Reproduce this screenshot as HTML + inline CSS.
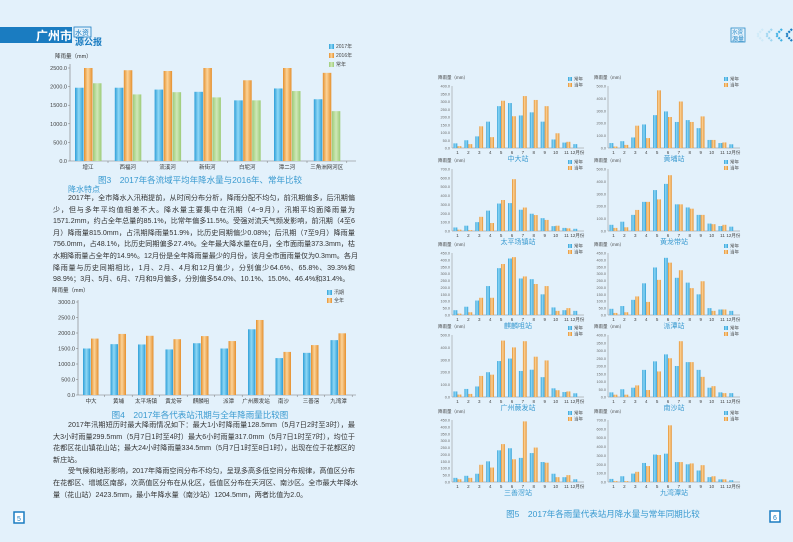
<!DOCTYPE html>
<html><head><meta charset="utf-8">
<style>
html,body{margin:0;padding:0;}
body{width:793px;height:542px;background:#e3f1fb;overflow:hidden;position:relative;font-family:"Liberation Sans","Noto Sans CJK SC",sans-serif;}
svg{position:absolute;left:0;top:0;}
.p{position:absolute;left:53px;width:302px;font-size:7.1px;color:#333;}
.p div{height:11.6px;line-height:11.6px;white-space:nowrap;text-align:justify;text-align-last:justify;overflow:visible;}
.p div.l{text-align-last:left;}
.p div.i{padding-left:15px;}
</style></head><body>
<svg id="s" width="793" height="542" viewBox="0 0 793 542" font-family="Liberation Sans, Noto Sans CJK SC, sans-serif">
<defs>
<linearGradient id="gb" x1="0" x2="1"><stop offset="0" stop-color="#2f9fd8"/><stop offset="0.45" stop-color="#8fd8f5"/><stop offset="1" stop-color="#2f9fd8"/></linearGradient>
<linearGradient id="go" x1="0" x2="1"><stop offset="0" stop-color="#e5902e"/><stop offset="0.45" stop-color="#fbd399"/><stop offset="1" stop-color="#e5902e"/></linearGradient>
<linearGradient id="gg" x1="0" x2="1"><stop offset="0" stop-color="#9ccb78"/><stop offset="0.5" stop-color="#cfe8b8"/><stop offset="1" stop-color="#9ccb78"/></linearGradient>
</defs>
<rect x="0" y="27" width="72" height="16" fill="#1a7cc1"/>
<text x="36" y="40" font-size="12" font-weight="bold" fill="#fff">广州市</text>
<rect x="74" y="27" width="17" height="10" fill="none" stroke="#1a7cc1" stroke-width="0.8"/>
<text x="75" y="35" font-size="7" fill="#1a7cc1">水资</text>
<text x="75" y="45" font-size="9" font-weight="bold" fill="#1a7cc1">源公报</text>
<rect x="731" y="28" width="14" height="14" fill="none" stroke="#2a8cc8" stroke-width="0.8"/>
<text x="732" y="34" font-size="5.5" fill="#2a8cc8">水资</text>
<text x="732" y="41" font-size="6" fill="#2a8cc8">源量</text>
<g fill="none" stroke-width="2.2" stroke-dasharray="2 1">
<polyline points="763,29 757,35 763,41" stroke="#cfeaf8"/>
<polyline points="772,29 766,35 772,41" stroke="#9fd6f1"/>
<polyline points="782,29 776,35 782,41" stroke="#3fb0e4"/>
<polyline points="792,29 786,35 792,41" stroke="#1a7cc1"/>
</g>
<g id="c1"></g><g id="c2"></g><g id="c3"></g>
<text x="200" y="183" font-size="8.5" fill="#3a9ad0" text-anchor="middle">图3　2017年各流域平均年降水量与2016年、常年比较</text>
<text x="68" y="192" font-size="8" fill="#3a9ad0">降水特点</text>
<text x="200" y="418" font-size="8.5" fill="#3a9ad0" text-anchor="middle">图4　2017年各代表站汛期与全年降雨量比较图</text>
<text x="603" y="517" font-size="8.5" fill="#3a9ad0" text-anchor="middle">图5　2017年各雨量代表站月降水量与常年同期比较</text>
<rect x="14" y="512" width="10" height="11" fill="#fff" stroke="#1a7cc1" stroke-width="1.5"/>
<text x="19" y="521" font-size="7" fill="#1a7cc1" text-anchor="middle">5</text>
<rect x="770" y="511" width="10" height="11" fill="#fff" stroke="#1a7cc1" stroke-width="1.5"/>
<text x="775" y="520" font-size="7" fill="#1a7cc1" text-anchor="middle">6</text>
</svg>
<div class="p" style="top:193px;">
<div class="i">2017年，全市降水入汛稍提前，从时间分布分析，降雨分配不均匀，前汛期偏多，后汛期偏</div>
<div>少，但与多年平均值相差不大。降水量主要集中在汛期（4~9月），汛期平均面降雨量为</div>
<div>1571.2mm，约占全年总量的85.1%，比常年偏多11.5%。受强对流天气频发影响，前汛期（4至6</div>
<div>月）降雨量815.0mm，占汛期降雨量51.9%，比历史同期偏少0.08%；后汛期（7至9月）降雨量</div>
<div>756.0mm，占48.1%，比历史同期偏多27.4%。全年最大降水量在6月，全市面雨量373.3mm，枯</div>
<div>水期降雨量占全年的14.9%。12月份是全年降雨量最少的月份，该月全市面雨量仅为0.3mm。各月</div>
<div>降雨量与历史同期相比，1月、2月、4月和12月偏少，分别偏少64.6%、65.8%、39.3%和</div>
<div class="l">98.9%；3月、5月、6月、7月和9月偏多，分别偏多54.0%、10.1%、15.0%、46.4%和31.4%。</div>
</div>
<div class="p" style="top:420px;">
<div class="i">2017年汛期短历时最大降雨情况如下：最大1小时降雨量128.5mm（5月7日2时至3时），最</div>
<div>大3小时雨量299.5mm（5月7日1时至4时）最大6小时雨量317.0mm（5月7日1时至7时），均位于</div>
<div>花都区花山镇花山站；最大24小时降雨量334.5mm（5月7日1时至8日1时），出现在位于花都区的</div>
<div class="l">新庄站。</div>
<div class="i">受气候和地形影响，2017年降雨空间分布不均匀，呈现多高多低空间分布规律，高值区分布</div>
<div>在花都区、增城区南部，次高值区分布在从化区，低值区分布在天河区、南沙区。全市最大年降水</div>
<div class="l">量（花山站）2423.5mm，最小年降水量（南沙站）1204.5mm，两者比值为2.0。</div>
</div>
<script>
var NS="http://www.w3.org/2000/svg";
function el(p,t,a,txt){var e=document.createElementNS(NS,t);for(var k in a)e.setAttribute(k,a[k]);if(txt!==undefined)e.textContent=txt;p.appendChild(e);return e;}
(function(){var g=document.getElementById('c1');
var x0=70,x1=356,yt=68,yb=161,max=2500;
el(g,'text',{x:55,y:58,'font-size':5.5,fill:'#333'},'降雨量（mm）');
for(var i=0;i<=5;i++){var y=yb-(yb-yt)*i/5;el(g,'text',{x:x0-3,y:y+2,'font-size':5.5,fill:'#444','text-anchor':'end'},(i*500).toFixed(1));el(g,'line',{x1:x0-2,x2:x0,y1:y,y2:y,stroke:'#777','stroke-width':0.5});}
el(g,'line',{x1:x0,x2:x0,y1:yt-4,y2:yb,stroke:'#777','stroke-width':0.6});
el(g,'line',{x1:x0,x2:x1,y1:yb,y2:yb,stroke:'#777','stroke-width':0.6});
var n=['增江','西福河','流溪河','新街河','白坭河','潭二河','三角洲网河区'];
var a=[1970,1970,1920,1860,1630,1950,1660],b=[2500,2440,2420,2500,2170,2500,2370],c=[2090,1790,1850,1710,1630,1880,1340];
for(var i=0;i<7;i++){var cx=88+i*39.8;
[[a,'gb',-13],[b,'go',-4],[c,'gg',5]].forEach(function(s){var h=(yb-yt)*s[0][i]/max;el(g,'rect',{x:cx+s[2],y:yb-h,width:8.5,height:h,fill:'url(#'+s[1]+')'});});
el(g,'text',{x:cx,y:yb+8,'font-size':5.5,fill:'#333','text-anchor':'middle'},n[i]);
el(g,'line',{x1:cx+20,x2:cx+20,y1:yb,y2:yb+2,stroke:'#777','stroke-width':0.5});}
[['gb','2017年',48],['go','2016年',57],['gg','常年',66]].forEach(function(l){el(g,'rect',{x:329,y:l[2]-4,width:5,height:5,fill:'url(#'+l[0]+')'});el(g,'text',{x:336,y:l[2],'font-size':5,fill:'#444'},l[1]);});
})();
(function(){var g=document.getElementById('c2');
var x0=78,x1=356,yt=302,yb=395,max=3000;
el(g,'text',{x:52,y:292,'font-size':5.5,fill:'#333'},'降雨量（mm）');
for(var i=0;i<=6;i++){var y=yb-(yb-yt)*i/6;el(g,'text',{x:x0-3,y:y+2,'font-size':5.5,fill:'#444','text-anchor':'end'},(i*500).toFixed(1));el(g,'line',{x1:x0-2,x2:x0,y1:y,y2:y,stroke:'#777','stroke-width':0.5});}
el(g,'line',{x1:x0,x2:x0,y1:yt-2,y2:yb,stroke:'#777','stroke-width':0.6});
el(g,'line',{x1:x0,x2:x1,y1:yb,y2:yb,stroke:'#777','stroke-width':0.6});
var n=['中大','黄埔','太平场镇','黄龙带','麒麟咀','派潭','广州蕨发站','南沙','三善滘','九湾潭'];
var a=[1500,1640,1630,1470,1670,1500,2120,1190,1360,1770],b=[1820,1970,1910,1800,1900,1740,2420,1390,1610,1990];
for(var i=0;i<10;i++){var cx=91+i*27.5;
[[a,'gb',-8],[b,'go',0]].forEach(function(s){var h=(yb-yt)*s[0][i]/max;el(g,'rect',{x:cx+s[2],y:yb-h,width:7.5,height:h,fill:'url(#'+s[1]+')'});});
el(g,'text',{x:cx,y:yb+8,'font-size':5.5,fill:'#333','text-anchor':'middle'},n[i]);
el(g,'line',{x1:cx+13.7,x2:cx+13.7,y1:yb,y2:yb+2,stroke:'#777','stroke-width':0.5});}
[['gb','汛期',104],['go','全年',112]].forEach(function(l){el(g,'rect',{x:327,y:190+l[2]-4,width:5,height:5,fill:'url(#'+l[0]+')'});el(g,'text',{x:334,y:190+l[2],'font-size':5,fill:'#444'},l[1]);});
})();
(function(){var g=document.getElementById('c3');
var S=[['中大站',400,[30,50,75,170,270,290,210,230,170,55,35,25],[12,25,140,70,305,205,335,310,270,95,40,0]],
['黄埔站',500,[40,55,85,190,265,295,210,225,160,65,40,30],[12,25,180,80,465,250,375,210,255,65,45,0]],
['太平场镇站',700,[40,60,100,230,310,315,240,195,145,55,35,25],[15,10,160,90,350,585,265,180,125,60,30,0]],
['黄龙带站',500,[50,75,130,235,330,380,215,190,130,60,40,35],[25,30,170,235,255,450,215,180,130,55,50,0]],
['麒麟咀站',450,[35,60,105,210,340,410,265,260,150,55,35,30],[10,20,125,125,370,420,280,225,210,30,50,0]],
['派潭站',450,[45,65,110,230,345,415,270,235,150,50,40,30],[15,20,135,95,255,380,325,195,245,30,40,0]],
['广州蕨发站',500,[45,65,85,200,290,310,210,220,160,70,40,30],[20,25,170,180,455,400,450,325,295,55,45,0]],
['南沙站',400,[30,50,60,175,230,275,200,225,175,60,30,25],[15,15,75,45,165,250,360,225,130,70,25,0]],
['三善滘站',450,[30,45,60,150,230,245,175,210,145,60,35,20],[20,30,125,105,275,165,440,250,140,35,50,0]],
['九湾潭站',700,[35,65,95,215,310,320,225,200,130,55,30,20],[10,10,115,180,305,640,225,210,190,65,30,0]]];
var tops=[86,169,253,335,420];
S.forEach(function(s,k){var col=k%2,row=Math.floor(k/2);var x0=col?608:452,yt=tops[row],yb=yt+62,w=132,max=s[1];
el(g,'text',{x:x0-14,y:yt-7,'font-size':4.5,fill:'#444'},'降雨量（mm）');
var step=max<=450?50:100;
for(var v=0;v<=max;v+=step){var y=yb-62*v/max;el(g,'text',{x:x0-2,y:y+1.5,'font-size':3.8,fill:'#666','text-anchor':'end'},v.toFixed(1));}
el(g,'line',{x1:x0,x2:x0,y1:yt,y2:yb,stroke:'#888','stroke-width':0.5});
el(g,'line',{x1:x0,x2:x0+w,y1:yb,y2:yb,stroke:'#888','stroke-width':0.5});
for(var i=0;i<12;i++){var cx=x0+5.5+i*10.9;
var h1=62*s[2][i]/max,h2=62*s[3][i]/max;
el(g,'rect',{x:cx-4,y:yb-h1,width:3.8,height:h1,fill:'url(#gb)'});
if(h2>0)el(g,'rect',{x:cx,y:yb-h2,width:3.8,height:h2,fill:'url(#go)'});
el(g,'text',{x:cx,y:yb+6,'font-size':4.5,fill:'#444','text-anchor':'middle'},i==11?'12月份':String(i+1));}
el(g,'text',{x:x0+w/2,y:yb+13,'font-size':7,fill:'#3a9ad0','text-anchor':'middle'},s[0]);
el(g,'rect',{x:x0+116,y:yt-9,width:4,height:4,fill:'url(#gb)'});el(g,'text',{x:x0+122,y:yt-5.5,'font-size':4.5,fill:'#444'},'常年');
el(g,'rect',{x:x0+116,y:yt-3,width:4,height:4,fill:'url(#go)'});el(g,'text',{x:x0+122,y:yt+0.5,'font-size':4.5,fill:'#444'},'当年');
});
})();
</script>
</body></html>
